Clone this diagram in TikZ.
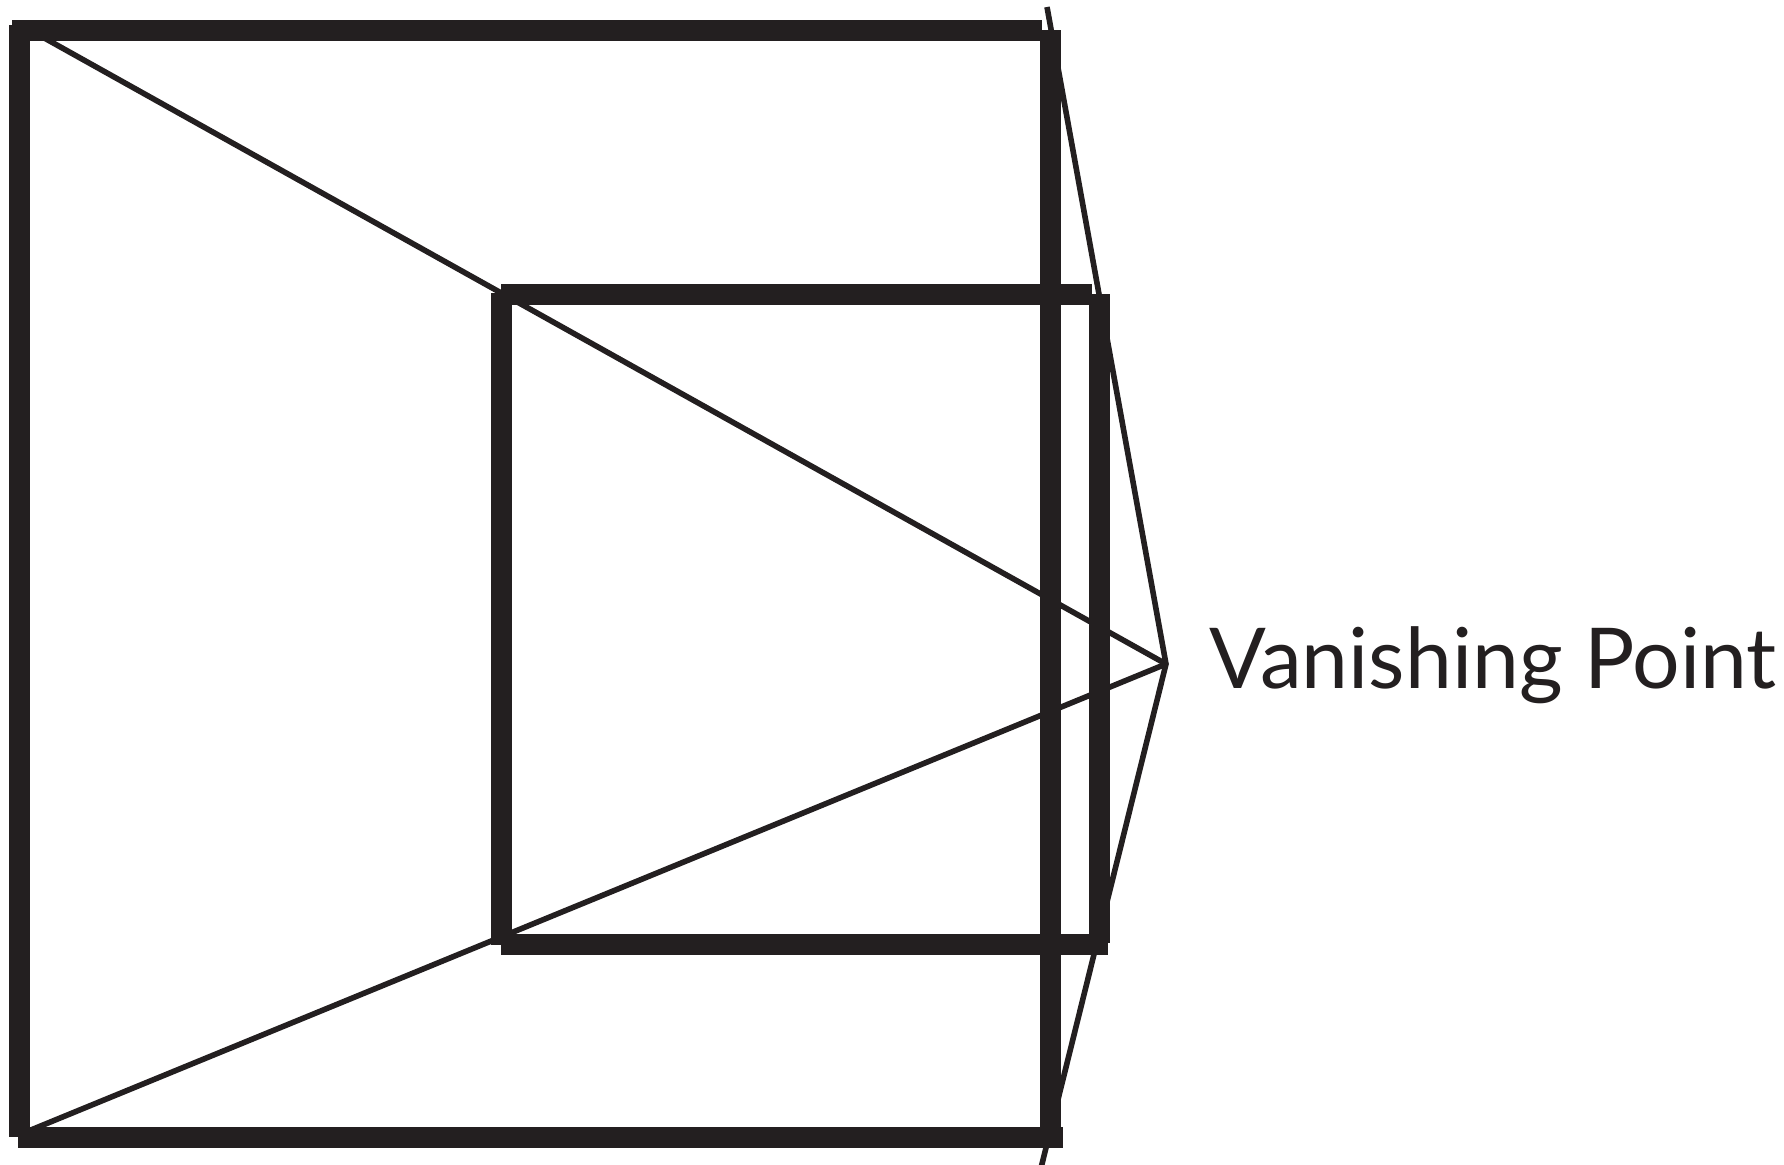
\documentclass[tikz,border=0pt]{standalone}
\usepackage{fontspec}
\setmainfont{Lato}
\definecolor{ink}{HTML}{231F20}
\tikzset{
  bar/.style={line width=10.5pt, ink},
  ray/.style={line width=2.8pt, ink},
  label/.style={font=\fontsize{42}{48}\selectfont, text=ink, inner sep=0pt}
}
\begin{document}
\begin{tikzpicture}[x=0.5pt, y=-0.5pt]
  % canvas size in pixels
  \useasboundingbox (0,0) rectangle (1784,1164);

  % vanishing point and the corners of the two frames
  \coordinate (vp) at (1166,664);
  \coordinate (bigtl) at (30,30);
  \coordinate (bigbl) at (26,1132);
  \coordinate (rayhi) at (1047,7);
  \coordinate (raylo) at (1040,1172);

  % rays towards the vanishing point
  \draw[ray] (bigtl) -- (vp);
  \draw[ray] (bigbl) -- (vp);
  \draw[ray] (rayhi) -- (vp) -- (raylo);

  % big frame, drawn as four separate strokes
  \draw[bar] (19,25) -- (19,1137);
  \draw[bar] (12,30) -- (1042,30);
  \draw[bar] (1050,30) -- (1050,1137);
  \draw[bar] (18,1137) -- (1063,1137);

  % small frame
  \draw[bar] (501,293) -- (501,945);
  \draw[bar] (501,294) -- (1092,294);
  \draw[bar] (1099,294) -- (1099,943);
  \draw[bar] (501,944) -- (1108,944);

  % label
  \node[label, anchor=base west] (vplabel) at (1209,688) {Vanishing Point};
\end{tikzpicture}
\end{document}
